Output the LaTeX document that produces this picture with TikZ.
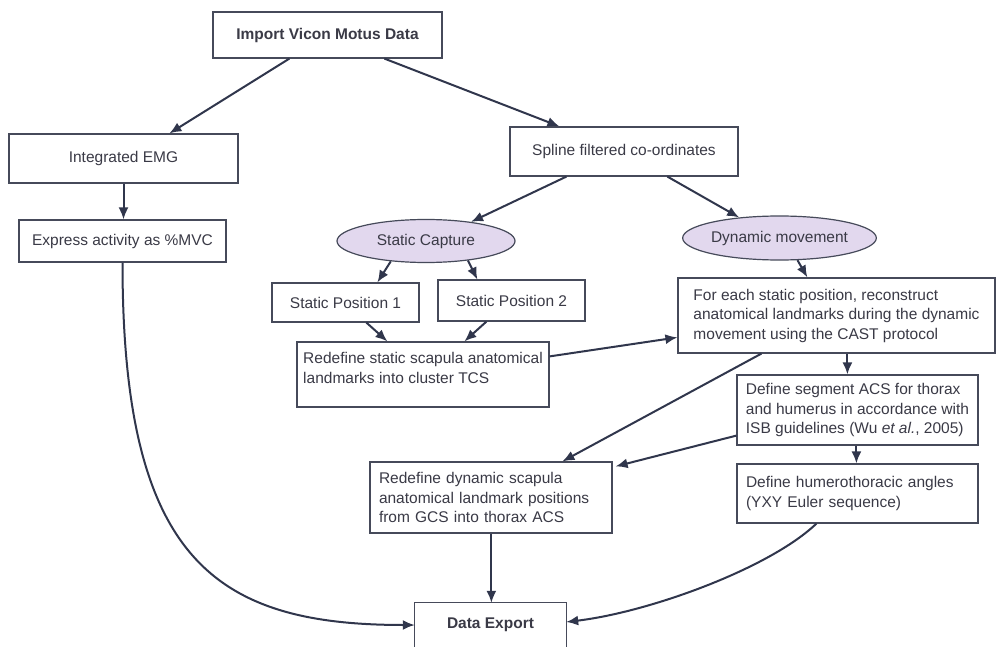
\documentclass[tikz,border=0pt]{standalone}
\usepackage{fontspec}
\setmainfont{Liberation Sans}
\usetikzlibrary{arrows.meta,shapes.geometric,calc}
\definecolor{linec}{RGB}{48,54,76}
\definecolor{boxc}{RGB}{70,74,90}
\definecolor{txtc}{RGB}{58,58,70}
\definecolor{lav}{RGB}{226,216,238}
\begin{document}
\begin{tikzpicture}[x=1pt,y=-1pt,
  box/.style={draw=boxc, line width=1.2pt, fill=white, rectangle, inner sep=0pt,
    text=txtc, font=\fontsize{15.5}{19.5}\selectfont, align=center},
  lbox/.style={box, align=left},
  oval/.style={draw=boxc, line width=1.2pt, fill=lav, ellipse, inner sep=0pt,
    text=txtc, font=\fontsize{15.5}{19.5}\selectfont},
  arr/.style={draw=linec, line width=2pt, -{Latex[length=12pt,width=10pt]}}
]
\fill[white] (0,0) rectangle (996,647);
\useasboundingbox (0,0) rectangle (996,647);

\node[box, minimum width=229pt, minimum height=46pt] (imp) at (327.5,35) {\bfseries Import Vicon Motus Data};
\node[box, minimum width=229pt, minimum height=49pt] (emg) at (123.5,158.5) {Integrated EMG};
\node[box, minimum width=207pt, minimum height=42pt] (mvc) at (122.5,241) {Express activity as \%MVC};
\node[box, minimum width=228pt, minimum height=49pt] (spl) at (624,151.5) {Spline filtered co-ordinates};
\node[oval, minimum width=178pt, minimum height=43pt] (sc) at (426,241) {Static Capture};
\node[oval, minimum width=179pt, minimum height=44pt] (dm) at (779.5,238) {Dynamic movement};
\node[box, minimum width=147pt, minimum height=39pt] (sp1) at (345.5,302.5) {Static Position 1};
\node[box, minimum width=147pt, minimum height=41pt] (sp2) at (511.5,300.5) {Static Position 2};
\node[lbox, minimum width=252pt, minimum height=65pt] (rs) at (423,374.5)
  {Redefine static scapula anatomical\\landmarks into cluster TCS\\[-6.5pt]\mbox{}};
\node[lbox, minimum width=317pt, minimum height=75pt] (cast) at (836.5,315.5)
  {For each static position, reconstruct\\anatomical landmarks during the dynamic\\movement using the CAST protocol};
\node[lbox, minimum width=241pt, minimum height=70pt] (seg) at (857.5,410)
  {Define segment ACS for thorax\\and humerus in accordance with\\ISB guidelines (Wu \emph{et al.}, 2005)};
\node[lbox, text width=223pt, inner xsep=9pt, minimum height=59pt] (hum) at (857.5,493.5)
  {Define humerothoracic angles\\(YXY Euler sequence)};
\node[lbox, text width=224pt, inner xsep=9pt, minimum height=71pt] (rd) at (491,497.5)
  {Redefine dynamic scapula\\anatomical landmark positions\\from GCS into thorax ACS};
\node[rectangle, inner sep=0pt, minimum width=151pt, minimum height=44pt, fill=white,
  text=txtc, font=\fontsize{15.5}{19.5}\selectfont\bfseries] (exp) at (490.5,625) {Data Export};
\draw[boxc, line width=1.2pt] (exp.south west) -- (exp.north west) -- (exp.north east) -- (exp.south east);

% connectors
\draw[arr] ([xshift=77pt]imp.south west) -- ([xshift=161pt]emg.north west);
\draw[arr] ([xshift=172pt]imp.south west) -- ([xshift=50pt]spl.north west);
\draw[arr] (emg.south) -- (emg.south |- mvc.north);
\draw[arr] (mvc.south) .. controls (122.5,560) and (215,625) .. (exp.west);
\draw[arr] ([xshift=57pt]spl.south west) -- (sc.23);
\draw[arr] ([xshift=158pt]spl.south west) -- (dm.153);
\draw[arr] (sc.210) -- ([xshift=106pt]sp1.north west);
\draw[arr] (sc.335) -- ([xshift=40pt]sp2.north west);
\draw[arr] ([xshift=95pt]sp1.south west) -- ([xshift=91pt]rs.north west);
\draw[arr] ([xshift=49pt]sp2.south west) -- ([xshift=168pt]rs.north west);
\draw[arr] ([yshift=-15pt]rs.north east) -- ([yshift=-60pt]cast.north west);
\draw[arr] (dm.-51) -- ([xshift=130pt]cast.north west);
\draw[arr] ([xshift=170pt]cast.south west) -- ([xshift=170pt]cast.south west |- seg.north);
\draw[arr] ([xshift=84pt]cast.south west) -- ([xshift=193pt]rd.north west);
\draw[arr] ([yshift=10pt]seg.south west) -- ([yshift=-5pt,xshift=3pt]rd.north east);
\draw[arr] ([xshift=120pt]seg.south west) -- ([xshift=120pt]seg.south west |- hum.north);
\draw[arr] ([xshift=122pt]rd.south west) -- ([xshift=122pt]rd.south west |- exp.north);
\draw[arr] ([xshift=80pt]hum.south west) .. controls (770,568) and (650,612) .. ([yshift=3pt]exp.east);
\end{tikzpicture}
\end{document}
